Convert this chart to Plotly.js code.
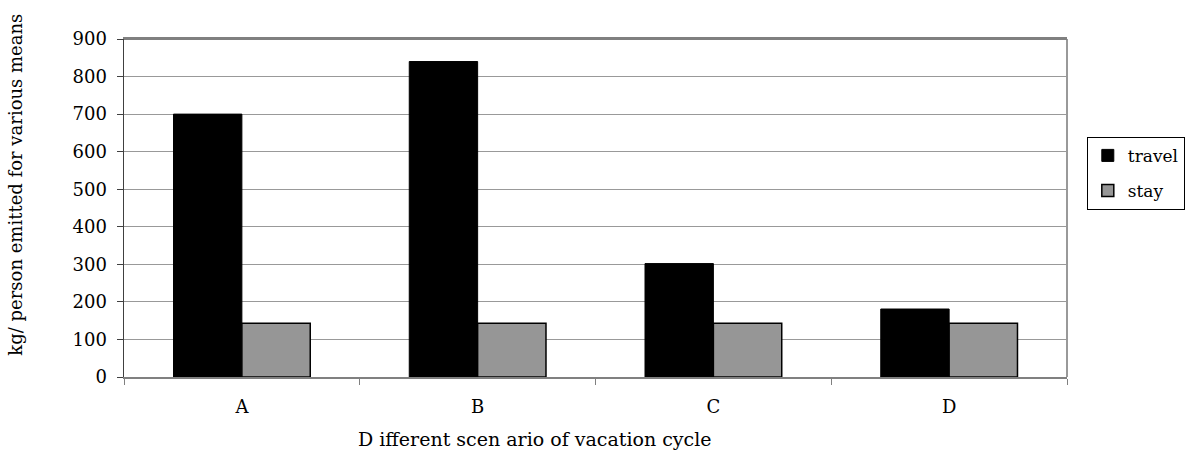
<!DOCTYPE html>
<html>
<head>
<meta charset="utf-8">
<script src="https://cdn.plot.ly/plotly-3.0.1.min.js"></script>
<style>html,body{margin:0;padding:0;background:#fff;}#chart{width:1185px;height:454px;}</style>
</head>
<body>
<div id="chart"></div>
<script>
const categories = ["A", "B", "C", "D"];
const travel = [700, 840, 302, 181];
const stay = [143, 143, 143, 143];
const seriesNames = ["travel", "stay"];
const yTicks = [0, 100, 200, 300, 400, 500, 600, 700, 800, 900];
const xTitle = "D ifferent scen ario of vacation cycle";
const yTitle = "kg/ person emitted for various means";

const fontFam = "DejaVu Serif, Liberation Serif, serif";

const data = [
  {type: "bar", name: seriesNames[0], x: categories, y: travel, legendgroup: "g1",
   marker: {color: "#000000", line: {color: "#000000", width: 1}}},
  {type: "bar", name: seriesNames[1], x: categories, y: stay, legendgroup: "g2",
   marker: {color: "#969696", line: {color: "#000000", width: 1.5}}}
];

const layout = {
  width: 1185, height: 454,
  margin: {l: 124, r: 118, t: 39, b: 76.5, pad: 0, autoexpand: false},
  paper_bgcolor: "#ffffff", plot_bgcolor: "#ffffff",
  barmode: "group", bargap: 0.42, bargroupgap: 0,
  showlegend: true,
  font: {family: fontFam, color: "#000"},
  xaxis: {
    type: "category",
    tickson: "boundaries", ticks: "outside", ticklen: 6, tickcolor: "#808080", tickwidth: 1,
    showline: true, linecolor: "#808080", linewidth: 2, mirror: true,
    showgrid: false, zeroline: false,
    ticklabelstandoff: 12,
    tickfont: {size: 18, family: fontFam}
  },
  yaxis: {
    range: [0, 900], tickvals: yTicks, ticktext: yTicks.map(String),
    ticks: "outside", ticklen: 6, tickcolor: "#404040", tickwidth: 1,
    showline: true, linecolor: "#404040", linewidth: 1.5, mirror: false,
    showgrid: true, gridcolor: "#999999", gridwidth: 1,
    zeroline: false,
    ticklabelstandoff: 6,
    tickfont: {size: 18, family: fontFam}
  },
  legend: {
    x: 1.021, y: 0.7105, xanchor: "left", yanchor: "top",
    bordercolor: "#000000", borderwidth: 1, bgcolor: "#ffffff",
    font: {size: 17, family: fontFam},
    traceorder: "grouped", tracegroupgap: 10,
    itemwidth: 30
  },
  annotations: [
    {text: xTitle, xref: "paper", yref: "paper", x: 0.436, y: 0, yshift: -62,
     xanchor: "center", yanchor: "middle", showarrow: false,
     font: {size: 19, family: fontFam, color: "#000"}},
    {text: yTitle, xref: "paper", yref: "paper", x: 0, y: 0.569, xshift: -108,
     xanchor: "center", yanchor: "middle", textangle: -90, showarrow: false,
     font: {size: 18, family: fontFam, color: "#000"}}
  ],
  shapes: [
    {type: "line", xref: "paper", yref: "paper", x0: 1, x1: 1, y0: 0, y1: 1, line: {color: "#999999", width: 2}},
    {type: "line", xref: "paper", yref: "paper", x0: 0, x1: 1, y0: 1, y1: 1, line: {color: "#808080", width: 2}}
  ]
};

Plotly.newPlot("chart", data, layout, {displayModeBar: false, staticPlot: true});
</script>
</body>
</html>
